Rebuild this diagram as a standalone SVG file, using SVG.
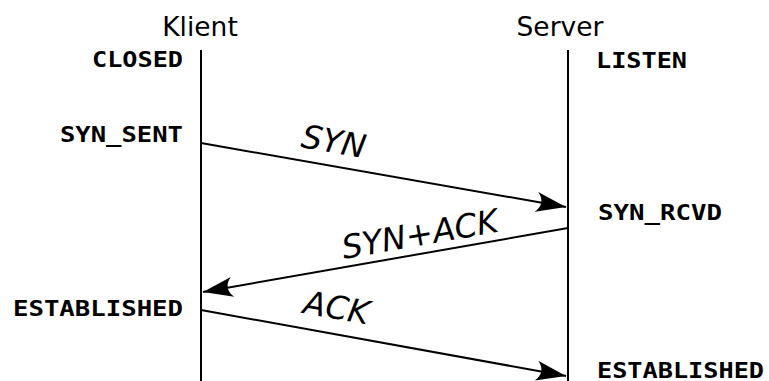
<svg xmlns="http://www.w3.org/2000/svg" width="769" height="381" viewBox="0 0 769 381">
  <style>
    .head { font-family: "DejaVu Sans", sans-serif; font-size: 26.5px; fill: #000; text-anchor: middle; }
    .state { font-family: "DejaVu Sans Mono", monospace; font-weight: bold; font-size: 22px; fill: #000; }
    .msg { font-family: "DejaVu Sans", sans-serif; font-style: italic; font-size: 32.5px; fill: #000; }
    .life { stroke: #000; stroke-width: 2; fill: none; }
    .arrow { stroke: #000; stroke-width: 2; fill: none; marker-end: url(#head); }
  </style>
  <defs>
    <marker id="head" markerUnits="userSpaceOnUse" markerWidth="40" markerHeight="30" viewBox="-32 -15 40 30" refX="0" refY="0" orient="auto" overflow="visible">
      <path d="M0,0 L-30,-10 C-23.5,-4 -23.5,4 -30,10 Z" fill="#000"/>
    </marker>
  </defs>

  <rect width="769" height="381" fill="#fff"/>

  <g id="klient">
    <text class="head" x="200" y="36">Klient</text>
    <line class="life" x1="201" y1="50" x2="201" y2="381"/>
    <text class="state" x="92" y="67" textLength="91" lengthAdjust="spacingAndGlyphs">CLOSED</text>
    <text class="state" x="60" y="142" textLength="123" lengthAdjust="spacingAndGlyphs">SYN_SENT</text>
    <text class="state" x="13" y="316" textLength="170" lengthAdjust="spacingAndGlyphs">ESTABLISHED</text>
  </g>

  <g id="server">
    <text class="head" x="560" y="36">Server</text>
    <line class="life" x1="568" y1="50" x2="568" y2="381"/>
    <text class="state" x="596" y="68" textLength="91" lengthAdjust="spacingAndGlyphs">LISTEN</text>
    <text class="state" x="598" y="220" textLength="124" lengthAdjust="spacingAndGlyphs">SYN_RCVD</text>
    <text class="state" x="597" y="378" textLength="167" lengthAdjust="spacingAndGlyphs">ESTABLISHED</text>
  </g>

  <g id="connectors">
    <line class="arrow" x1="201" y1="143" x2="566" y2="207"/>
    <text class="msg" transform="translate(300,147) rotate(10)">SYN</text>
    <line class="arrow" x1="568" y1="228" x2="203" y2="292"/>
    <text class="msg" transform="translate(344,259) rotate(-10)">SYN+ACK</text>
    <line class="arrow" x1="201" y1="310" x2="566" y2="376"/>
    <text class="msg" transform="translate(302,313) rotate(10)">ACK</text>
  </g>
</svg>
